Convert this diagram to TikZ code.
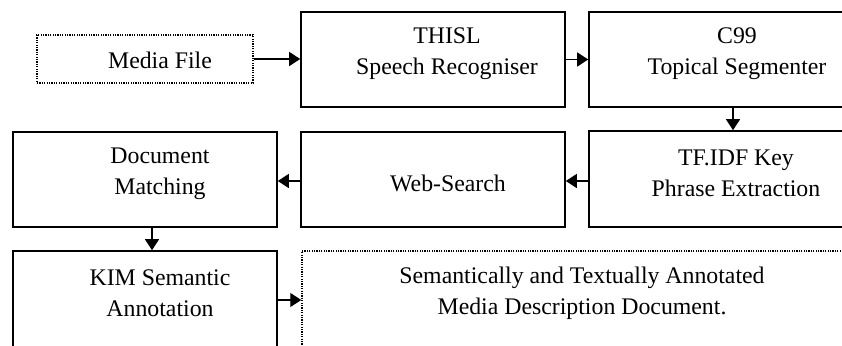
\documentclass[tikz,border=0pt]{standalone}
\usepackage{fontspec}
\setmainfont{Liberation Serif}
\usetikzlibrary{arrows.meta}
\begin{document}
\begin{tikzpicture}[x=1pt,y=-1pt,
  box/.style={draw, line width=1.6pt, inner sep=0pt, rectangle},
  dotbox/.style={draw, line width=1.5pt, inner sep=0pt, rectangle, dash pattern=on 1.2pt off 1.2pt},
  lbl/.style={align=center, inner sep=0pt, font=\fontsize{23.8}{31}\selectfont},
  arr/.style={line width=1.4pt, -{Triangle[length=11pt,width=14pt]}}]
\useasboundingbox (0,0) rectangle (842,345);
\clip (0,0) rectangle (842,345);
% boxes
\node[dotbox, minimum width=216pt, minimum height=48pt] (media) at (145,59) {};
\node[box, minimum width=264pt, minimum height=95pt] (thisl) at (433,59.5) {};
\node[box, minimum width=288pt, minimum height=95pt] (c99) at (733,59.5) {};
\node[box, minimum width=288pt, minimum height=96pt] (tfidf) at (733,179) {};
\node[box, minimum width=264pt, minimum height=95pt] (web) at (433,179.5) {};
\node[box, minimum width=264pt, minimum height=95pt] (doc) at (145,179.5) {};
\node[box, minimum width=264pt, minimum height=98pt] (kim) at (145,300) {};
\node[dotbox, minimum width=560pt, minimum height=110pt] (out) at (582,306) {};
% texts
\node[lbl] (tmedia) at (160,60) {Media File};
\node[lbl] (tthisl) at (447,53.5) {THISL\\Speech Recogniser};
\node[lbl] (tc99) at (737,53.5) {C99\\Topical Segmenter};
\node[lbl] (ttfidf) at (736,173) {TF.IDF Key\\Phrase Extraction};
\node[lbl] (tweb) at (448,183) {Web-Search};
\node[lbl] (tdoc) at (160,173.5) {Document\\Matching};
\node[lbl] (tkim) at (160,293) {KIM Semantic\\Annotation};
\node[lbl] (tout) at (582,293.5) {Semantically and Textually Annotated\\Media Description Document.};
% connectors
\draw[arr] (media.east) -- (media.east -| thisl.west);
\draw[arr] (thisl.east) -- (thisl.east -| c99.west);
\draw[arr] (c99.south) -- (tfidf.north);
\draw[arr] ([yshift=-2pt]tfidf.west) -- ([yshift=-2pt]tfidf.west -| web.east);
\draw[arr] ([yshift=-1.5pt]web.west) -- ([yshift=-1.5pt]web.west -| doc.east);
\draw[arr] ([xshift=7pt]doc.south) -- ([xshift=7pt]kim.north);
\draw[arr] (kim.east) -- (kim.east -| out.west);
\end{tikzpicture}
\end{document}
